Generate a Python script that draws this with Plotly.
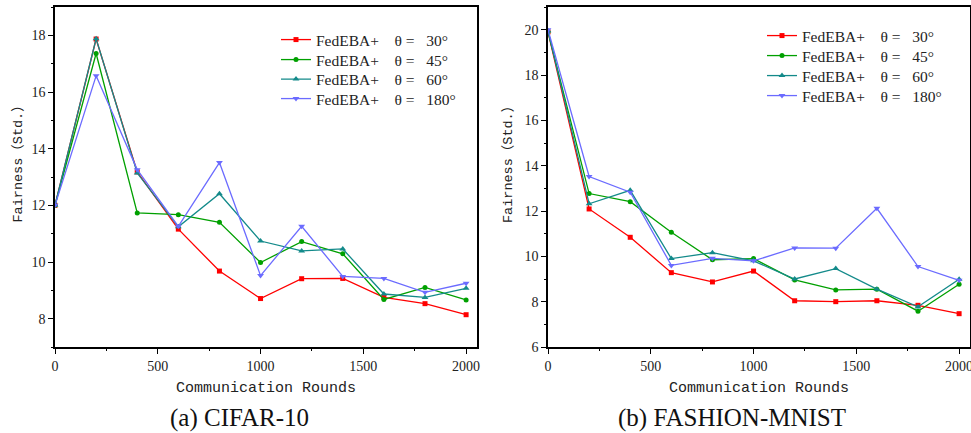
import plotly.graph_objects as go

rounds = [0, 200, 400, 600, 800, 1000, 1200, 1400, 1600, 1800, 2000]
series_names = ["FedEBA+\u00a0\u00a0\u00a0\u00a0θ\u00a0=\u00a0\u00a0\u00a030°",
                "FedEBA+\u00a0\u00a0\u00a0\u00a0θ\u00a0=\u00a0\u00a0\u00a045°",
                "FedEBA+\u00a0\u00a0\u00a0\u00a0θ\u00a0=\u00a0\u00a0\u00a060°",
                "FedEBA+\u00a0\u00a0\u00a0\u00a0θ\u00a0=\u00a0\u00a0\u00a0180°"]

# (a) CIFAR-10
cifar_30 = [12.0, 17.87, 13.18, 11.16, 9.68, 8.71, 9.41, 9.42, 8.75, 8.53, 8.14]
cifar_45 = [12.0, 17.36, 11.73, 11.67, 11.40, 9.98, 10.72, 10.29, 8.68, 9.10, 8.66]
cifar_60 = [12.0, 17.88, 13.14, 11.24, 12.41, 10.74, 10.39, 10.46, 8.87, 8.75, 9.07]
cifar_180 = [12.0, 16.57, 13.26, 11.26, 13.51, 9.52, 11.26, 9.49, 9.42, 8.93, 9.25]

# (b) FASHION-MNIST
fm_30 = [19.9, 12.09, 10.84, 9.28, 8.87, 9.35, 8.04, 8.00, 8.04, 7.84, 7.47]
fm_45 = [19.9, 12.77, 12.41, 11.06, 9.85, 9.90, 8.96, 8.52, 8.55, 7.58, 8.77]
fm_60 = [19.95, 12.32, 12.91, 9.90, 10.16, 9.80, 9.00, 9.46, 8.55, 7.77, 8.99]
fm_180 = [20.0, 13.52, 12.83, 9.60, 9.91, 9.80, 10.37, 10.36, 12.12, 9.55, 8.94]

colors = ["#ff0000", "#00a000", "#138a8a", "#6b6bff"]
symbols = ["square", "circle", "triangle-up", "triangle-down"]
msizes = [5, 5, 6, 6]

W, H = 971, 433
legfont = dict(family="Liberation Serif", size=15.5, color="#222")
left_rows = [40, 60, 79.5, 99]
right_rows = [36, 56, 76, 96]

fig = go.Figure()
legends = {}
for i, ys in enumerate([cifar_30, cifar_45, cifar_60, cifar_180]):
    lname = "legend" if i == 0 else f"legend{i + 1}"
    fig.add_trace(go.Scatter(x=rounds, y=ys, name=series_names[i], mode="lines+markers",
                             line=dict(color=colors[i], width=1.3),
                             marker=dict(symbol=symbols[i], size=msizes[i], color=colors[i]),
                             xaxis="x", yaxis="y", legend=lname, showlegend=True))
    legends[lname] = dict(x=276 / W, y=1 - left_rows[i] / H, xanchor="left", yanchor="middle",
                          font=legfont, bgcolor="rgba(0,0,0,0)", itemwidth=30)
for i, ys in enumerate([fm_30, fm_45, fm_60, fm_180]):
    lname = f"legend{i + 5}"
    fig.add_trace(go.Scatter(x=rounds, y=ys, name=series_names[i], mode="lines+markers",
                             line=dict(color=colors[i], width=1.3),
                             marker=dict(symbol=symbols[i], size=msizes[i], color=colors[i]),
                             xaxis="x2", yaxis="y2", legend=lname, showlegend=True))
    legends[lname] = dict(x=762 / W, y=1 - right_rows[i] / H, xanchor="left", yanchor="middle",
                          font=legfont, bgcolor="rgba(0,0,0,0)", itemwidth=30)

tickfont = dict(family="Liberation Serif", size=14, color="#222")
titlefont = dict(family="Liberation Mono, Noto Sans CJK SC", size=15, color="#222")
ytitlefont = dict(family="Liberation Mono, Noto Sans CJK SC", size=13.5, color="#222")

def xax(domain, anchor):
    return dict(domain=domain, anchor=anchor, range=[0, 2053], tickvals=[0, 500, 1000, 1500, 2000],
                automargin=False, ticklabeloverflow="allow",
                showline=True, mirror=True, linecolor="black", linewidth=1.5,
                ticks="outside", ticklen=5, tickwidth=1.3, tickcolor="black",
                minor=dict(ticks="outside", ticklen=2.5, tickwidth=1.3, tickcolor="black", dtick=250, tick0=0),
                showgrid=False, zeroline=False, tickfont=tickfont,
                title=dict(text="Communication Rounds", font=titlefont, standoff=9))

def yax(domain, anchor, rng, dt):
    return dict(domain=domain, anchor=anchor, range=rng, dtick=dt, tick0=0,
                automargin=False,
                showline=True, mirror=True, linecolor="black", linewidth=1.5,
                ticks="outside", ticklen=5, tickwidth=1.3, tickcolor="black",
                minor=dict(ticks="outside", ticklen=2.5, tickwidth=1.3, tickcolor="black", dtick=1, tick0=0),
                showgrid=False, zeroline=False, tickfont=tickfont)

ydom = [1 - 347 / H, 1 - 7 / H]

fig.update_layout(
    template="none",
    showlegend=True,
    width=W, height=H, margin=dict(l=0, r=0, t=0, b=0),
    paper_bgcolor="white", plot_bgcolor="white",
    xaxis=xax([55 / W, 477 / W], "y"),
    yaxis=yax(ydom, "x", [7, 19], 2),
    xaxis2=xax([548 / W, 970 / W], "y2"),
    yaxis2=yax(ydom, "x2", [6, 21], 2),
    annotations=[
        dict(text="Fairness（Std.）", x=17.5 / W, y=1 - 161 / H, xref="paper", yref="paper",
             textangle=-90, showarrow=False, xanchor="center", yanchor="middle", font=ytitlefont),
        dict(text="Fairness（Std.）", x=508 / W, y=1 - 161 / H, xref="paper", yref="paper",
             textangle=-90, showarrow=False, xanchor="center", yanchor="middle", font=ytitlefont),
        dict(text="(a) CIFAR-10", x=239.5 / W, y=1 - 418 / H, xref="paper", yref="paper",
             showarrow=False, xanchor="center", yanchor="middle",
             font=dict(family="Liberation Serif", size=25, color="#111")),
        dict(text="(b) FASHION-MNIST", x=732 / W, y=1 - 418 / H, xref="paper", yref="paper",
             showarrow=False, xanchor="center", yanchor="middle",
             font=dict(family="Liberation Serif", size=25, color="#111")),
    ],
    **legends,
)

fig.write_html("out.html", config={"displayModeBar": False},
               post_script="document.body.style.margin='0';")
